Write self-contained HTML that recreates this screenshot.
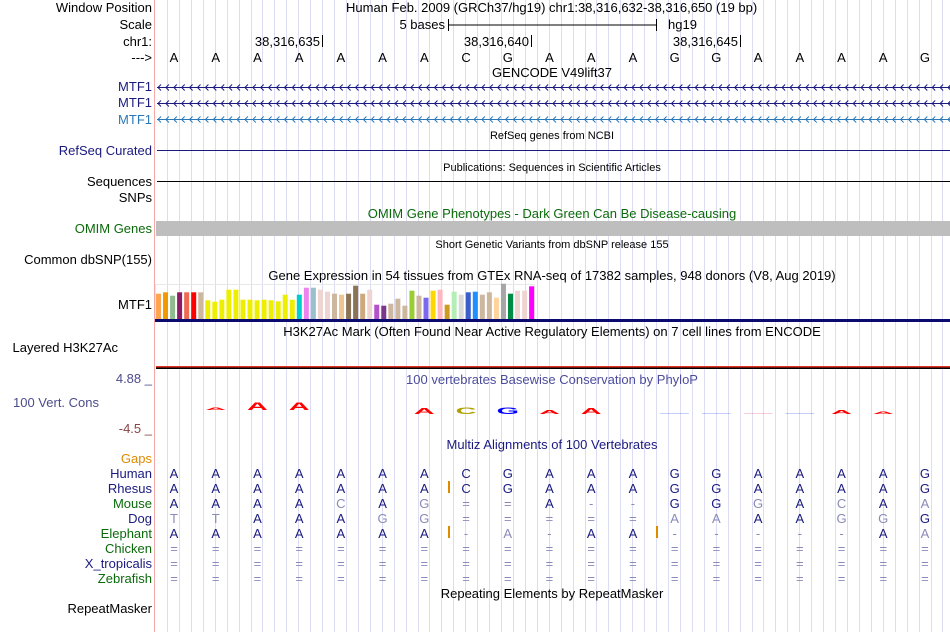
<!DOCTYPE html>
<html><head><meta charset="utf-8"><style>
html,body{margin:0;padding:0;background:#fff;}
body{width:950px;height:632px;overflow:hidden;position:relative;font-family:"Liberation Sans",sans-serif;}
svg{position:absolute;left:0;top:0;}
text{font-family:"Liberation Sans",sans-serif;}
</style></head><body>
<svg id="s" width="950" height="632">
<g id="grid"></g>
<line x1="154.5" y1="0" x2="154.5" y2="632" stroke="#f4a8a8"/>
<g id="labels" font-size="13" text-anchor="end">
<text x="152" y="12" fill="#000">Window Position</text>
<text x="152" y="29" fill="#000">Scale</text>
<text x="152" y="46" fill="#000">chr1:</text>
<text x="152" y="62" fill="#000">---&gt;</text>
<text x="152" y="91" fill="#1a1a80">MTF1</text>
<text x="152" y="107" fill="#1a1a80">MTF1</text>
<text x="152" y="124" fill="#2a78b8">MTF1</text>
<text x="152" y="155" fill="#1a1a80">RefSeq Curated</text>
<text x="152" y="186" fill="#000">Sequences</text>
<text x="152" y="202" fill="#000">SNPs</text>
<text x="152" y="233" fill="#0a6a0a">OMIM Genes</text>
<text x="152" y="264" fill="#000">Common dbSNP(155)</text>
<text x="152" y="309" fill="#000">MTF1</text>
<text x="118" y="352" fill="#000">Layered H3K27Ac</text>
<text x="152" y="383" fill="#4c4c8c">4.88 _</text>
<text x="99" y="407" fill="#4c4c8c">100 Vert. Cons</text>
<text x="152" y="433" fill="#8b4545">-4.5 _</text>
<text x="152" y="463" fill="#e08a00">Gaps</text>
<text x="152" y="478" fill="#1a1a80">Human</text>
<text x="152" y="493" fill="#1a1a80">Rhesus</text>
<text x="152" y="508" fill="#0a6a0a">Mouse</text>
<text x="152" y="523" fill="#1a1a80">Dog</text>
<text x="152" y="538" fill="#0a6a0a">Elephant</text>
<text x="152" y="553" fill="#0a6a0a">Chicken</text>
<text x="152" y="568" fill="#1a1a80">X_tropicalis</text>
<text x="152" y="583" fill="#0a6a0a">Zebrafish</text>
<text x="152" y="613" fill="#000">RepeatMasker</text>
</g>
<g font-size="13" fill="#000">
<text x="346" y="12">Human Feb. 2009 (GRCh37/hg19)   chr1:38,316,632-38,316,650 (19 bp)</text>
<text x="445" y="29" text-anchor="end">5 bases</text>
<line x1="448" y1="25" x2="656" y2="25" stroke="#000"/>
<line x1="448.5" y1="19" x2="448.5" y2="31" stroke="#000"/>
<line x1="656.5" y1="19" x2="656.5" y2="31" stroke="#000"/>
<text x="668" y="29">hg19</text>
<text x="320" y="46" text-anchor="end">38,316,635</text>
<line x1="322.5" y1="35" x2="322.5" y2="47" stroke="#000"/>
<text x="529" y="46" text-anchor="end">38,316,640</text>
<line x1="531.5" y1="35" x2="531.5" y2="47" stroke="#000"/>
<text x="738" y="46" text-anchor="end">38,316,645</text>
<line x1="740.5" y1="35" x2="740.5" y2="47" stroke="#000"/>
<text x="552" y="77" text-anchor="middle">GENCODE V49lift37</text>
<text x="552" y="139" text-anchor="middle" font-size="11">RefSeq genes from NCBI</text>
<line x1="157" y1="150.5" x2="950" y2="150.5" stroke="#1a1a80"/>
<text x="552" y="171" text-anchor="middle" font-size="11">Publications: Sequences in Scientific Articles</text>
<line x1="157" y1="181.5" x2="950" y2="181.5" stroke="#000"/>
<text x="552" y="218" text-anchor="middle" fill="#0a6a0a">OMIM Gene Phenotypes - Dark Green Can Be Disease-causing</text>
<rect x="156" y="221" width="794" height="15" fill="#bebebe"/>
<text x="552" y="248" text-anchor="middle" font-size="11">Short Genetic Variants from dbSNP release 155</text>
<text x="552" y="280" text-anchor="middle">Gene Expression in 54 tissues from GTEx RNA-seq of 17382 samples, 948 donors (V8, Aug 2019)</text>
<rect x="155.5" y="284.5" width="379" height="35" fill="none" stroke="#e8e8e8"/>
<rect x="155" y="319" width="795" height="3" fill="#0a0a70"/>
<text x="552" y="336" text-anchor="middle">H3K27Ac Mark (Often Found Near Active Regulatory Elements) on 7 cell lines from ENCODE</text>
<rect x="156" y="366" width="794" height="1.5" fill="#e03020"/>
<rect x="156" y="367.5" width="794" height="1.5" fill="#000"/>
<text x="552" y="384" text-anchor="middle" fill="#4c4c9c">100 vertebrates Basewise Conservation by PhyloP</text>
<text x="552" y="449" text-anchor="middle" fill="#1a1a80">Multiz Alignments of 100 Vertebrates</text>
<text x="552" y="598" text-anchor="middle">Repeating Elements by RepeatMasker</text>
</g>
<g id="bases" font-size="13" text-anchor="middle"></g>
<g id="genes"></g>
<g id="gtex"></g>
<g id="cons"></g>
<g id="multiz" font-size="13" text-anchor="middle"></g>
</svg>
<script>
const refBases = ["A","A","A","A","A","A","A","C","G","A","A","A","G","G","A","A","A","A","G"];
const gtexValues = [25.3,26.7,23.3,26.7,26.7,26.7,26.7,18.7,17.3,19.3,29.3,29.3,19.3,19.3,18.7,19.3,18.7,17.7,24.3,19.3,24.3,31.3,31.3,29.3,27.3,25.3,24.3,25.3,33.3,25.3,29.3,14.3,13.3,15.3,20.3,13.3,28.3,23.3,21.3,28.3,29.3,14.3,27.3,24.3,26.7,27.3,24.3,26.7,21.3,35.3,25.3,28.3,28.3,32.7];
const gtexColors = ["#FFA54F","#EE9A00","#8FBC8F","#8B1C62","#EE6A50","#FF0000","#CDB79E","#EEEE00","#EEEE00","#EEEE00","#EEEE00","#EEEE00","#EEEE00","#EEEE00","#EEEE00","#EEEE00","#EEEE00","#EEEE00","#EEEE00","#EEEE00","#00CDCD","#EE82EE","#9AC0CD","#EED5D2","#EED5D2","#CDB79E","#EEC591","#8B7355","#8B7355","#CDAA7D","#EED5D2","#B452CD","#7A378B","#CDB79E","#CDB79E","#CDB79E","#9ACD32","#CDB79E","#7B68EE","#FFD700","#FFB6C1","#CD9B1D","#B4EEB4","#D9D9D9","#3A5FCD","#1E90FF","#CDB79E","#CDB79E","#FFD39B","#A6A6A6","#008B45","#EED5D2","#EED5D2","#FF00FF"];
const consBases = ["","A","A","A","","","A","C","G","A","A","","-","-","=","-","A","A",""];
const consHeights = [0,3,8,8,0,0,6,7,7,4,6,0,1,1,3,1,4,3,0];
const speciesNames = ["Human","Rhesus","Mouse","Dog","Elephant","Chicken","X_tropicalis","Zebrafish"];
const alignHuman = "AAAAAAACGAAAGGAAAAG";
const alignRhesus = "AAAAAAACGAAAGGAAAAG";
const alignMouse = "AAAACAG==A--GGGACAA";
const alignDog = "TTAAAGG=====AAAAGGG";
const alignElephant = "AAAAAAA-A-AA-----AA";
const alignChicken = "===================";
const alignXtrop = "===================";
const alignZebra = "===================";
const alignRows = [alignHuman,alignRhesus,alignMouse,alignDog,alignElephant,alignChicken,alignXtrop,alignZebra];
const darkMask = ["1111111111111111111","1111111111111111111","1111010001001101010","0011100000000011001","1111111000110000010","0000000000000000000","0000000000000000000","0000000000000000000"];

const NS="http://www.w3.org/2000/svg";
function mk(tag, attrs, parent){const e=document.createElementNS(NS,tag);for(const k in attrs)e.setAttribute(k,attrs[k]);parent.appendChild(e);return e;}
const xBase = i => 174 + i*41.72;
const grid=document.getElementById('grid');
for(let x=167;x<950;x+=11.93){
  const l=mk('line',{x1:Math.round(x)+0.5,y1:0,x2:Math.round(x)+0.5,y2:632,stroke:'#dcdcf2'},grid);
  
  
}
const bg=document.getElementById('bases');
refBases.forEach((b,i)=>{
  const t=mk('text',{x:xBase(i),y:62,fill:'#000'},bg);t.textContent=b;
  
  
});
const gg=document.getElementById('genes');
[[87,'#1a1a80'],[103,'#1a1a80'],[119,'#2a78b8']].forEach((r,k)=>{
  let d='M157 '+(r[0]+0.5)+' H950 ';
  for(let x=158;x<950;x+=7.9){d+='M'+(x+3)+' '+(r[0]-2.5)+' L'+x+' '+(r[0]+0.5)+' L'+(x+3)+' '+(r[0]+3.5)+' ';}
  const p=mk('path',{d:d,stroke:r[1],fill:'none','stroke-width':1},gg);
  
  
});
const gx=document.getElementById('gtex');
const gBase=319, gX=i=>156+i*7.04;
gtexValues.forEach((v,i)=>{
  const r=mk('rect',{x:gX(i),y:gBase-v,width:5,height:v,fill:gtexColors[i]},gx);
  
  
});
const cg=document.getElementById('cons');
const consColor={A:'#ff0000',C:'#b0a000',G:'#0000ff','-':'#2040e0','=':'#e04060'};
consBases.forEach((b,i)=>{
  const h=consHeights[i]; if(!b||!h) return;
  const bottom = i<5?410:414;
  const t=mk('text',{x:0,y:0,'font-size':12,'font-weight':'bold','text-anchor':'middle',fill:consColor[b],
    transform:'translate('+xBase(i)+','+bottom+') scale(2.4,'+(h/9)+')'},cg);
  t.textContent = (b==='-'||b==='=')?'\u2014':b;
  
  
});
const mg=document.getElementById('multiz');
alignRows.forEach((row,r)=>{
  for(let i=0;i<row.length;i++){
    const c=row[i];
    const dark=darkMask[r][i]==='1';
    const t=mk('text',{x:xBase(i),y:478+r*15,fill:dark?'#1a1a80':'#8a8ab8'},mg);
    t.textContent=c;
    
    
  }
});
[[448,481],[448,526],[656,526]].forEach(p=>{
  const l=mk('rect',{x:p[0],y:p[1],width:2,height:12,fill:'#e08a00'},mg);
  
  
});
</script>
</body></html>
